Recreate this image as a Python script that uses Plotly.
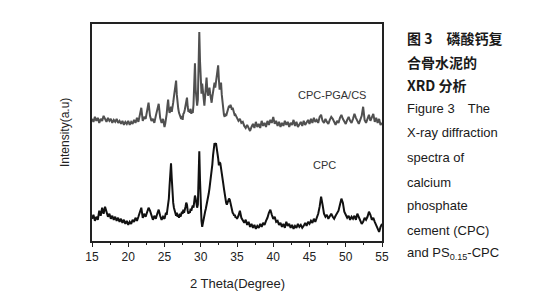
import numpy as np
import plotly.graph_objects as go

# 2-theta sampling grid (degrees)
two_theta = np.round(np.concatenate([
    np.arange(15.0, 24.81, 0.2),
    np.arange(25.0, 34.91, 0.1),
    np.arange(35.0, 55.01, 0.2),
]), 2)

# CPC-PGA/CS intensities (a.u., offset trace)
cpc_pga_cs = [
    121, 118, 123, 119, 122, 117, 121, 119, 124, 120,
    118, 122, 119, 121, 117, 120, 118, 121, 117, 119,
    116, 119, 115, 118, 116, 119, 115, 118, 116, 120,
    117, 122, 118, 125, 132, 119, 123, 121, 128, 137,
    124, 119, 121, 117, 124, 130, 136, 122, 117, 121,
    # 25.0 - 34.9 (0.1 step)
    113, 116, 120, 126, 134, 140, 131, 127, 129, 133,
    128, 131, 137, 143, 150, 158, 159, 145, 134, 131,
    127, 125, 122, 121, 124, 120, 126, 127, 130, 134,
    140, 142, 133, 128, 130, 127, 131, 126, 129, 127,
    135, 150, 176, 150, 137, 134, 140, 168, 207, 178,
    150, 146, 156, 148, 140, 134, 143, 155, 162, 150,
    144, 147, 152, 146, 141, 137, 143, 150, 154, 157,
    152, 158, 162, 168, 174, 160, 150, 153, 157, 145,
    135, 128, 125, 123, 126, 124, 127, 129, 131, 134,
    132, 135, 133, 130, 132, 128, 126, 124, 125, 124,
    # 35.0 - 55.0 (0.2 step)
    122, 119, 121, 117, 118, 114, 112, 115, 111, 109,
    113, 116, 112, 118, 113, 116, 112, 119, 114, 117,
    113, 119, 115, 120, 117, 123, 116, 119, 114, 118,
    113, 117, 114, 119, 115, 118, 113, 117, 115, 120,
    114, 118, 113, 116, 118, 114, 119, 115, 117, 120,
    116, 121, 117, 122, 118, 120, 117, 123, 125, 119,
    117, 121, 118, 116, 120, 123, 121, 118, 115, 119,
    117, 122, 125, 121, 118, 116, 120, 123, 119, 117,
    121, 126, 122, 118, 116, 120, 124, 133, 120, 117,
    121, 125, 119, 123, 126, 118, 122, 117, 121, 115,
    117,
]

# CPC intensities (a.u.)
cpc = [
    22, 26, 20, 24, 21, 30, 25, 33, 27, 34,
    29, 24, 27, 22, 25, 21, 24, 20, 23, 19,
    22, 18, 21, 17, 20, 16, 19, 17, 21, 19,
    23, 20, 24, 29, 33, 23, 27, 24, 29, 33,
    30, 24, 21, 25, 22, 27, 31, 25, 21, 24,
    # 25.0 - 34.9 (0.1 step)
    22, 25, 28, 26, 31, 35, 42, 55, 70, 77,
    62, 45, 38, 33, 29, 27, 25, 28, 24, 26,
    23, 27, 24, 26, 29, 27, 31, 28, 30, 34,
    38, 36, 30, 27, 29, 28, 32, 30, 33, 35,
    33, 38, 45, 42, 36, 33, 36, 55, 89, 60,
    32, 20, 14, 19, 24, 27, 29, 32, 35, 38,
    42, 47, 52, 57, 64, 70, 76, 85, 93, 97,
    95, 97, 92, 88, 82, 75, 78, 77, 73, 68,
    62, 57, 52, 46, 42, 38, 36, 38, 40, 42,
    41, 37, 33, 31, 28, 27, 25, 26, 23, 24,
    # 35.0 - 55.0 (0.2 step)
    22, 25, 30, 23, 20, 18, 21, 16, 19, 14,
    17, 13, 16, 12, 15, 13, 17, 14, 18, 16,
    20, 23, 28, 31, 26, 22, 24, 19, 20, 16,
    18, 14, 17, 13, 19, 15, 17, 13, 16, 12,
    15, 13, 17, 14, 16, 13, 15, 18, 15, 19,
    17, 20, 18, 22, 19, 23, 27, 34, 44, 36,
    27, 24, 26, 22, 25, 27, 24, 22, 25, 27,
    30, 36, 42, 38, 29, 26, 23, 25, 21, 24,
    22, 25, 21, 27, 23, 20, 17, 19, 23, 21,
    24, 29, 26, 21, 23, 19, 16, 12, 9, 14,
    17,
]

x_ticks = [15, 20, 25, 30, 35, 40, 45, 50, 55]
series_labels = ["CPC-PGA/CS", "CPC"]
caption_lines = [
    "<b>图 3　磷酸钙复</b>",
    "<b>合骨水泥的</b>",
    "<b>XRD 分析</b>",
    "Figure 3　The",
    "X-ray diffraction",
    "spectra of",
    "calcium",
    "phosphate",
    "cement (CPC)",
    "and PS<sub>0.15</sub>-CPC",
]

# page body has an 8px margin, so the figure starts at (8, 8)
OFF = 8
W, H = 547 - OFF, 300 - OFF
L, R, T, B = 92, 382, 24, 241  # plot box in window pixels


def px_x(px):
    return (px - L) / (R - L)


def px_y(py):
    return (B - py) / (B - T)


fig = go.Figure()
fig.add_trace(go.Scatter(x=two_theta, y=cpc_pga_cs, mode="lines",
                         line=dict(color="#505050", width=2), showlegend=False))
fig.add_trace(go.Scatter(x=two_theta, y=cpc, mode="lines",
                         line=dict(color="#111111", width=2), showlegend=False))

FONT = "Liberation Sans, Arial"
annotations = []
annotations.append(dict(x=48.1, y=px_y(95), xref="x", yref="paper", text=series_labels[0],
                        xanchor="center", yanchor="middle", showarrow=False,
                        font=dict(family=FONT, size=11, color="#333")))
annotations.append(dict(x=47.1, y=px_y(165), xref="x", yref="paper", text=series_labels[1],
                        xanchor="center", yanchor="middle", showarrow=False,
                        font=dict(family=FONT, size=11, color="#333")))
annotations.append(dict(x=px_x(237), y=px_y(283), xref="paper", yref="paper", text="2 Theta(Degree)",
                        xanchor="center", yanchor="middle", showarrow=False,
                        font=dict(family=FONT, size=13, color="#222")))
annotations.append(dict(x=px_x(65), y=px_y(133), xref="paper", yref="paper", text="Intensity(a.u)",
                        textangle=-90, xanchor="center", yanchor="middle", showarrow=False,
                        font=dict(family=FONT, size=12, color="#222")))
caption_y = [38, 62, 85, 108, 133, 157, 182, 205, 230, 253]
for i, (txt, cy) in enumerate(zip(caption_lines, caption_y)):
    fam = "Noto Sans CJK SC" if i < 3 else FONT
    size = 14 if i < 3 else 13
    annotations.append(dict(x=px_x(405), y=px_y(cy), xref="paper", yref="paper", text=txt,
                            xanchor="left", yanchor="middle", showarrow=False,
                            font=dict(family=fam, size=size, color="#1a1a1a")))

fig.update_layout(
    width=W, height=H,
    margin=dict(l=L - OFF, r=W - (R - OFF), t=T - OFF, b=H - (B - OFF), pad=0),
    paper_bgcolor="white", plot_bgcolor="white",
    annotations=annotations,
    xaxis=dict(range=[15, 55], tickvals=x_ticks, ticks="outside", ticklen=4, tickwidth=1,
               tickcolor="#222", showline=True, linecolor="#222", linewidth=1.5, mirror=True,
               showgrid=False, zeroline=False,
               minor=dict(dtick=2.5, tick0=15, ticks="outside", ticklen=2, tickcolor="#222"),
               tickfont=dict(family=FONT, size=12, color="#222")),
    yaxis=dict(range=[0, 215], showticklabels=False, ticks="", showline=True, linecolor="#222",
               linewidth=1.5, mirror=True, showgrid=False, zeroline=False,
               minor=dict(ticks="")),
)

fig.write_html("out.html")
